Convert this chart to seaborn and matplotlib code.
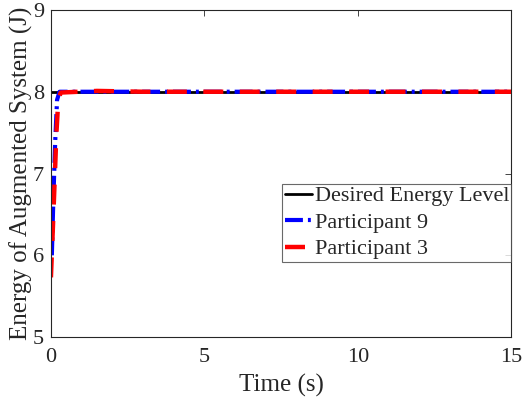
import numpy as np
import pandas as pd
import seaborn as sns
import matplotlib
matplotlib.use("Agg")
import matplotlib.pyplot as plt

# data
t_desired = [0, 15]
e_desired = [8.0, 8.0]

t_p9 = [0.03, 0.08, 0.14, 0.20, 0.28, 1.0, 15]
e_p9 = [6.0, 6.7, 7.4, 7.9, 8.0, 8.0, 8.0]

t_p3 = [0.0, 0.06, 0.12, 0.18, 0.24, 0.32, 1.5, 3.0, 15]
e_p3 = [5.73, 6.3, 6.9, 7.5, 7.9, 7.99, 8.01, 8.0, 8.0]

sns.set_style("white")
plt.rcParams['font.family'] = ['Liberation Serif', 'DejaVu Serif']
plt.rcParams['mathtext.fontset'] = 'stix'

fig, ax = plt.subplots(figsize=(5.25, 3.98), dpi=100)

sns.lineplot(x=t_desired, y=e_desired, ax=ax, color='black', lw=2,
             label='Desired Energy Level')
sns.lineplot(x=t_p9, y=e_p9, ax=ax, color='blue', lw=3.0,
             label='Participant 9')
ax.lines[-1].set_dashes([4.3, 1.2, 0.7, 1.2])
sns.lineplot(x=t_p3, y=e_p3, ax=ax, color='red', lw=3.2,
             label='Participant 3')
ax.lines[-1].set_dashes([4.5, 3.7])

ax.set_xlim(0, 15)
ax.set_ylim(5, 9)
ax.set_xticks([0, 5, 10, 15])
ax.set_yticks([5, 6, 7, 8, 9])
ax.tick_params(direction='in', length=4, labelsize=16, colors='#262626',
               top=True, right=True, width=0.6)
ax.tick_params(axis='x', pad=8)
ax.tick_params(axis='y', pad=5)
for s in ax.spines.values():
    s.set_linewidth(0.8)
    s.set_color('#262626')

ax.set_xlabel('Time (s)', fontsize=18, labelpad=4.5, color='#262626')
ax.set_ylabel('Energy of Augmented System (J)', fontsize=18, labelpad=0,
              color='#262626')

leg = ax.legend(loc='center right', bbox_to_anchor=(1.0, 0.35), fontsize=16,
                frameon=True, fancybox=False, handlelength=1.25,
                handletextpad=0.1, borderpad=0.1, labelspacing=0.27,
                borderaxespad=0)
leg.get_frame().set_edgecolor('#444444')
leg.get_frame().set_linewidth(0.8)

fig.subplots_adjust(left=0.097, right=0.974, top=0.975, bottom=0.153)
fig.savefig('out.png', dpi=100)
